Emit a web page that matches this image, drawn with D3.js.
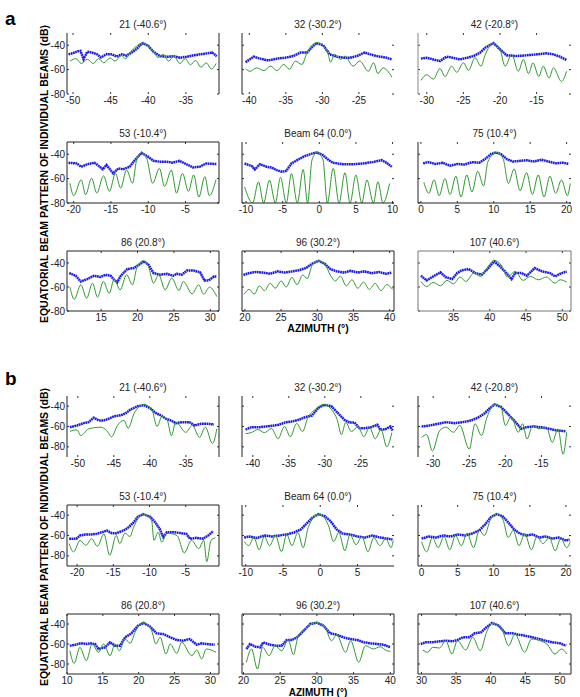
<!DOCTYPE html>
<html>
<head>
<meta charset="utf-8">
<script src="https://cdn.jsdelivr.net/npm/d3@7"></script>
<style>
  body { margin: 0; background: #fff; }
  text { font-family: Arial, "Liberation Sans", sans-serif; }
</style>
</head>
<body>
<div id="chart"></div>
<script>
// beam titles, same for both parts
const titles = ["21 (-40.6°)", "32 (-30.2°)", "42 (-20.8°)",
                "53 (-10.4°)", "Beam 64 (0.0°)", "75 (10.4°)",
                "86 (20.8°)", "96 (30.2°)", "107 (40.6°)"]

const yTicks = [-40, -60, -80]

// azimuth range of every panel
const xDomainsA = [[-50.8,-30.6],[-41,-20.2],[-31.2,-10.3],
                   [-20.9,-0.5],[-10.55,10.2],[-0.4,20.6],
                   [10.3,31.2],[19.6,40.6],[30.1,51.2]]
const xDomainsB = [[-51.5,-30.4],[-41.5,-20.4],[-32.1,-10.9],
                   [-21.4,-0.4],[-10.5,9.9],[-0.5,20.7],
                   [10,31.2],[19.8,40.5],[29.5,51.6]]

// ---- part a : measured (blue) and modelled (green) beam patterns, [azimuth, dB]
const blueA = [
  [[-50.6,-47.5],[-50,-46.5],[-49.4,-45],[-49,-44.7],[-48.6,-51.5],[-48.1,-45.3],[-47.5,-46],[-46.8,-47.5],[-46.3,-50],[-45.5,-47.3],[-44.8,-47.5],[-44.2,-49.4],[-43.5,-47.5],[-42.9,-48.5],[-42.2,-46],[-41.5,-42.8],[-41,-39.5],[-40.7,-38.3],[-40,-40.5],[-39.3,-45.5],[-38.4,-49],[-37.5,-49.5],[-36.6,-49],[-35.8,-50.3],[-34.9,-49.5],[-34,-48.3],[-33.1,-47.5],[-32.2,-46.7],[-31.5,-46],[-30.9,-49]],
  [[-40.5,-53.9],[-39.4,-49.4],[-38.5,-51],[-37.4,-52.5],[-36.2,-51],[-35.1,-50.3],[-34,-48.9],[-33,-46],[-32.1,-46],[-31.5,-42],[-30.8,-38.3],[-29.9,-40],[-29,-47.5],[-28,-49.4],[-27.1,-50.3],[-26.2,-50.3],[-25.3,-48.9],[-24.2,-46],[-23,-48.3],[-22.1,-49.4],[-21.2,-50.3],[-20.5,-51.7]],
  [[-30.8,-51],[-30,-50.3],[-29.1,-51.7],[-28.2,-53],[-27.3,-49.4],[-26.4,-50.3],[-25.5,-51.7],[-24.5,-50.3],[-23.6,-48.9],[-22.7,-46],[-22,-42],[-20.9,-38.3],[-20,-43.3],[-19.1,-48.3],[-17.7,-48.9],[-16.4,-48.3],[-15,-47.5],[-13.6,-46.7],[-12.7,-47.5],[-11.8,-49.4],[-10.9,-52.2]],
  [[-20.7,-47],[-19.6,-47.6],[-19,-50.3],[-18.1,-48.1],[-17.2,-47],[-16.5,-50.3],[-16.1,-52.4],[-15.6,-48.9],[-14.7,-55.7],[-14,-51.6],[-13.4,-52.4],[-12.5,-50.3],[-11.8,-44.9],[-10.9,-38.9],[-10,-42.2],[-9.3,-45.4],[-8.4,-46.2],[-7.5,-46.2],[-6.7,-47],[-5.8,-45.4],[-4.9,-48.1],[-4,-50.8],[-3.1,-50.3],[-2.2,-47.6],[-0.8,-48.1]],
  [[-10.2,-47.6],[-9.2,-49.8],[-8.8,-52.5],[-8.1,-48.2],[-7.2,-50.3],[-6.5,-50.9],[-5.8,-53.1],[-5.1,-54.4],[-4.5,-53.6],[-3.8,-47.6],[-2.9,-44.4],[-2,-41.6],[-1,-39.5],[-0.3,-38.6],[0.5,-40.8],[1.2,-44.4],[1.9,-47.1],[3.3,-48.2],[4.6,-48.2],[6,-47.6],[7.4,-46.3],[8.5,-44.9],[9.2,-47.1],[9.9,-50.3]],
  [[0.3,-47.5],[1,-46.5],[2,-48],[3,-47],[4,-49.5],[5,-48],[6,-48.5],[7,-46.5],[8,-47],[8.8,-44],[9.6,-40],[10.3,-38.5],[11,-40],[11.8,-44],[12.6,-46],[13.5,-45.5],[14.5,-45],[15.5,-46],[16.5,-44.5],[17.5,-46],[18.5,-47.5],[19.5,-47],[20.3,-48]],
  [[10.6,-48.4],[11.5,-50.6],[12.2,-55.4],[13.1,-53.4],[14,-50.6],[14.9,-51.7],[15.6,-49.8],[16.3,-50.6],[16.7,-53.4],[17.2,-56.2],[17.7,-50.6],[18.6,-45],[19.5,-44.2],[20.2,-41.4],[20.9,-38.6],[21.5,-41.4],[22.2,-48.4],[23.1,-49.8],[24,-49],[24.9,-50.6],[25.4,-49],[26.1,-49.8],[26.8,-46.2],[27.7,-46.2],[28.6,-47.8],[29.2,-54.5],[29.8,-54.5],[30.5,-51.2],[30.9,-51.2]],
  [[19.8,-50],[20.5,-48.5],[21.5,-47.5],[22.5,-48],[23.5,-49],[24.5,-47],[25.5,-48],[26.5,-47],[27.5,-46],[28.5,-44],[29.3,-40.5],[30.2,-38.2],[31,-40.5],[31.8,-45],[32.7,-47],[33.7,-48],[34.6,-46.5],[35.6,-48],[36.5,-47],[37.5,-48.5],[38.5,-47.5],[39.5,-49],[40.3,-48]],
  [[30.5,-50.6],[31.3,-54.5],[32.2,-51.2],[33.2,-47.8],[33.9,-51.7],[34.8,-53.4],[35.5,-48.4],[36.1,-46.2],[37.1,-45],[38,-48.4],[38.9,-49.8],[39.8,-44.2],[40.6,-38.6],[41.4,-42.8],[42.3,-48.4],[43,-53.4],[43.5,-48.4],[44.4,-48.4],[45.1,-50.6],[46.2,-44.2],[47.2,-47],[48.3,-48.4],[49,-51.2],[49.7,-49],[50.6,-47]]
]
const greenA = [
  [[-50.4,-53],[-49.6,-51],[-48.9,-55],[-48.1,-51.5],[-47.3,-55],[-46.6,-51],[-45.9,-54.5],[-45.1,-50.5],[-44.4,-53],[-43.6,-48.5],[-43,-51],[-42.3,-45],[-41.6,-41],[-40.8,-38.2],[-40,-40.5],[-39.3,-45.5],[-38.7,-50],[-38,-47.5],[-37.3,-53],[-36.6,-49],[-35.8,-55],[-35.1,-51],[-34.4,-56],[-33.7,-52.5],[-33,-58],[-32.3,-54.5],[-31.6,-59.5],[-31,-55]],
  [[-40.5,-59.4],[-39.9,-61.4],[-39,-58.6],[-38,-60.8],[-37.1,-57.2],[-36.2,-60.8],[-35.3,-55.8],[-34.5,-59.7],[-33.7,-53],[-32.8,-55.8],[-32.1,-46],[-31.5,-40.6],[-30.7,-37.8],[-29.9,-40.6],[-29.2,-47.5],[-28.9,-53.9],[-28.3,-47.5],[-27.5,-51.7],[-26.9,-48.9],[-25.8,-57.2],[-24.9,-53],[-23.7,-61.4],[-23,-54.4],[-22.4,-63.3],[-21.7,-58.6],[-20.5,-66.1]],
  [[-30.8,-68.9],[-30,-64.2],[-29.1,-67.8],[-28.2,-59.2],[-27.5,-65.6],[-26.6,-57.2],[-25.9,-62.2],[-25,-54.4],[-24.3,-60.6],[-23.4,-50.3],[-22.6,-57.2],[-22,-47.5],[-20.9,-38.3],[-20,-43.3],[-19.3,-57.2],[-18.4,-47.5],[-17.5,-61.4],[-16.8,-51.7],[-16.1,-63.3],[-15.5,-54.4],[-14.7,-65.6],[-14.1,-57.2],[-13.3,-66.9],[-12.7,-58.6],[-11.6,-69.7],[-10.9,-61.4]],
  [[-20.5,-63.8],[-20,-74],[-19,-61],[-18.4,-73.2],[-17.6,-59.7],[-16.9,-71.9],[-16,-57.8],[-15.2,-70.5],[-14.4,-55.7],[-13.7,-67.8],[-12.9,-53],[-12.1,-63.8],[-11.6,-46],[-10.9,-38.9],[-10.2,-43.5],[-9.4,-63.8],[-8.5,-51.6],[-7.8,-66.5],[-6.9,-53],[-6.2,-71.9],[-5.4,-55.7],[-4.6,-70.5],[-3.9,-57],[-3.2,-75.1],[-2.4,-58.4],[-1.8,-74],[-0.9,-61]],
  [[-10.2,-66.7],[-9.1,-80],[-8.3,-62.6],[-7.6,-80],[-6.8,-61.2],[-6,-80],[-5.3,-59],[-4.5,-80],[-3.8,-55.8],[-3,-80],[-2.2,-52.5],[-1.6,-80],[-1,-44.9],[-0.3,-38.6],[0.5,-44.4],[1.1,-80],[1.9,-51.7],[2.7,-80],[3.5,-55.2],[4.2,-80],[5,-57.1],[5.8,-80],[6.5,-61.2],[7.4,-80],[8,-62.6],[8.7,-80],[9.6,-64]],
  [[0.4,-63],[1.1,-72],[1.8,-61],[2.5,-74],[3.3,-60],[4,-73],[4.8,-58],[5.5,-75],[6.3,-57],[7,-71],[7.8,-54],[8.6,-66],[9.2,-46],[10.4,-38.6],[11.3,-44],[12,-64],[12.8,-52],[13.6,-70],[14.5,-55],[15.3,-73],[16.1,-57],[16.9,-75],[17.7,-58],[18.5,-72],[19.3,-61],[20.1,-74],[20.5,-64]],
  [[10.7,-60.1],[11.3,-70.2],[12.2,-58.2],[13,-69.4],[13.8,-56.8],[14.5,-68.5],[15.3,-55.4],[16.1,-65.2],[16.8,-53.4],[17.6,-62.4],[18.5,-49.8],[19.3,-58.2],[19.9,-44.2],[20.8,-38],[21.5,-42.8],[22.2,-56.8],[22.9,-49.8],[23.8,-62.4],[24.7,-52.6],[25.7,-62.9],[26.3,-55.4],[27.5,-65.7],[28.4,-58.2],[29.1,-66],[29.9,-60.1],[30.9,-68]],
  [[19.9,-66],[20.6,-62],[21.3,-66],[22,-59],[22.7,-63],[23.5,-57],[24.2,-61],[25,-55],[25.7,-60],[26.5,-52],[27.2,-58],[28,-50],[28.6,-53],[29.3,-42],[30.2,-38],[31.1,-41.5],[31.8,-50],[32.5,-55],[33.2,-51],[34,-59],[34.8,-54],[35.6,-61],[36.4,-56],[37.2,-62],[38,-57],[38.8,-63],[39.6,-58],[40.4,-62]],
  [[30.5,-55.4],[31.3,-59.6],[32.2,-56.2],[33.2,-59],[34.1,-54.5],[35,-57.3],[35.9,-51.7],[36.7,-55.4],[37.8,-48.4],[38.7,-51.2],[39.6,-44.2],[40.6,-37.8],[41.7,-42.8],[42.4,-51.7],[43.5,-47],[44.6,-54.5],[45.6,-51.2],[46.7,-54],[47.8,-51.7],[49,-56.8],[49.7,-54],[50.6,-55.9]]
]

// ---- part b
const blueB = [
  [[-51.1,-60.7],[-50.1,-59],[-49.2,-56.7],[-48.5,-55.7],[-47.8,-51.3],[-47.1,-54],[-46.4,-54],[-45.7,-52.3],[-45,-50],[-44.1,-49],[-43.4,-47.3],[-42.7,-43.3],[-41.7,-40],[-40.8,-39],[-39.9,-42.3],[-39.2,-46.7],[-38.5,-49],[-37.8,-52.3],[-37.1,-54],[-36.4,-56.7],[-35.5,-55.7],[-34.5,-55.7],[-33.8,-59],[-32.9,-57.3],[-32,-57.3],[-31.1,-58]],
  [[-41,-63],[-40.2,-60.7],[-39.1,-60.7],[-38.2,-60],[-37.3,-59.3],[-36.4,-58.3],[-35.5,-56],[-34.5,-55],[-33.6,-53.3],[-32.7,-50.7],[-31.8,-49.3],[-30.9,-41.7],[-30.1,-38.7],[-29.1,-40],[-28.2,-46.7],[-27.3,-53.3],[-26.6,-56],[-25.9,-56],[-25.2,-61.7],[-24.5,-61.7],[-23.6,-60.7],[-22.7,-58.3],[-22.3,-63.3],[-21.6,-62.7],[-20.9,-60],[-20.6,-64]],
  [[-31.6,-60],[-30.5,-59],[-29.3,-57.3],[-28.2,-55.7],[-27,-56.7],[-25.9,-55.7],[-24.7,-54],[-23.8,-51.3],[-22.9,-47.3],[-22.2,-42.3],[-21.5,-38.3],[-20.6,-40.7],[-19.7,-47.3],[-18.7,-54.7],[-17.8,-62.3],[-17.1,-60.7],[-16.2,-60],[-15,-60.7],[-13.9,-62.3],[-12.7,-64],[-11.6,-64.7]],
  [[-21.1,-63.2],[-20.1,-63.2],[-19.6,-60],[-18.9,-59],[-18.2,-59],[-17.3,-58.4],[-16.6,-56.8],[-15.9,-55.2],[-15.2,-57.7],[-14.6,-57.7],[-13.6,-55.2],[-12.9,-51.9],[-12.2,-47.1],[-11.6,-41.6],[-10.9,-39],[-9.9,-41.6],[-9.2,-47.1],[-8.6,-53.5],[-8.1,-61.6],[-7.6,-56.8],[-6.7,-56.8],[-5.6,-57.7],[-4.9,-58.4],[-4.4,-63.2],[-3.5,-62.3],[-2.6,-63.2],[-1.9,-60],[-1.2,-55.8]],
  [[-10.2,-62],[-9.5,-61],[-8.5,-62.5],[-7.5,-60],[-6.5,-61],[-5.5,-60],[-4.5,-59],[-3.5,-57],[-2.6,-54],[-1.8,-48],[-1,-42],[-0.2,-39],[0.6,-41],[1.4,-46],[2.2,-54],[3,-58],[4,-59],[5,-61],[6,-62],[7,-60],[8,-62],[9,-63],[9.7,-64]],
  [[0,-63],[1,-61],[2,-62],[3,-60],[4,-61],[5,-59],[6,-60],[7,-58],[8,-55],[8.8,-49],[9.6,-42],[10.4,-39],[11.2,-41],[12,-47],[12.8,-54],[13.6,-58],[14.5,-60],[15.4,-59],[16.3,-62],[17.2,-61],[18.1,-63],[19,-62],[20,-65],[20.5,-64]],
  [[10.4,-61.7],[11.2,-60.7],[11.9,-59.3],[12.8,-60],[13.2,-59.3],[13.9,-60],[14.4,-65],[15.3,-63.3],[16,-58.3],[16.7,-61.7],[17.4,-61.7],[18.1,-53.3],[19,-49.3],[19.9,-41.7],[20.7,-39],[21.6,-42.7],[22.5,-49.3],[23.4,-50],[24.4,-53.3],[25.3,-56],[26.2,-56.7],[27.1,-55],[28.1,-60.7],[28.8,-59.3],[29.4,-60],[30.6,-60.7]],
  [[20.4,-65],[20.9,-60],[21.6,-62.7],[22.3,-63.3],[22.7,-58.3],[23.6,-60.7],[24.5,-61.7],[25.2,-61.7],[25.9,-56],[26.6,-56],[27.3,-53.3],[28.2,-46.7],[29.1,-40],[30,-38.7],[30.9,-41.7],[31.8,-49.3],[32.7,-50.7],[33.6,-53.3],[34.5,-55],[35.5,-56],[36.4,-58.3],[37.3,-59.3],[38.2,-60],[39.1,-60.7],[40,-63.3]],
  [[29.9,-60],[30.6,-58.3],[31.6,-58.3],[32.6,-57.3],[33.5,-56.7],[34.5,-57.3],[35.2,-56],[36,-53.3],[36.9,-53.3],[37.7,-49.3],[38.6,-48.3],[39.4,-43.3],[40.2,-39],[41.2,-41.7],[42.1,-49.3],[43.1,-49.3],[44.1,-50.7],[45,-51.7],[46,-53.3],[47,-55],[47.9,-56.7],[48.9,-58.3],[50,-59.3],[50.9,-61.7]]
]
const greenB = [
  [[-51.1,-64.7],[-50.1,-63.3],[-49.6,-69],[-48.5,-62.3],[-46.8,-60.7],[-46,-64],[-45.3,-70],[-44.5,-59],[-43.6,-54],[-43,-61.7],[-42.2,-47.3],[-40.8,-38.3],[-39.7,-44],[-39,-60],[-38.3,-50],[-37.6,-53.3],[-37,-69],[-36.4,-55.7],[-35,-65.7],[-34.1,-59],[-33.1,-70.7],[-32.3,-60.7],[-31.3,-76.7],[-30.7,-62.3]],
  [[-41,-67],[-40.2,-66],[-39.3,-63],[-38.4,-66],[-37.4,-62],[-36.5,-72],[-35.6,-60],[-34.8,-70],[-33.9,-57],[-33.1,-65],[-32.4,-52],[-31.3,-43],[-30.2,-38.3],[-29,-44],[-28.3,-53],[-27.7,-68],[-27.1,-56],[-26.3,-65],[-25.4,-60],[-24.6,-70],[-23.8,-61],[-23,-72],[-22.2,-63],[-21.4,-80],[-20.7,-66]],
  [[-31.6,-70.7],[-30.9,-68],[-30.1,-84],[-29.1,-64],[-28.2,-60.7],[-27.2,-65.7],[-26.3,-59],[-25,-82.3],[-24.2,-57.3],[-23.3,-69],[-22.6,-52.3],[-21.5,-38],[-20.6,-40.7],[-20,-59],[-19.2,-50.7],[-18.2,-65.7],[-17.6,-57.3],[-17,-72.3],[-16.2,-59],[-15.3,-62.3],[-14.3,-60.7],[-13.5,-75.7],[-12.7,-62.3],[-12,-87.3],[-11.5,-65.7]],
  [[-21.1,-68],[-20.5,-76.1],[-19.6,-64.8],[-18.8,-69.7],[-18,-63.2],[-17.2,-70.6],[-16.3,-58.4],[-15.5,-79.4],[-14.6,-60],[-14.1,-68],[-13.4,-57.7],[-12.7,-61],[-12.2,-51.9],[-10.9,-39],[-9.7,-45.5],[-9.4,-64.8],[-8.8,-56.8],[-8.3,-66.5],[-7.6,-57.7],[-6.2,-60],[-5.2,-77.1],[-4.2,-64.8],[-3.2,-72.9],[-2.5,-64.8],[-2.1,-85.8],[-1.5,-64.8],[-0.9,-62.3]],
  [[-10.2,-66],[-9.6,-70],[-8.9,-62],[-8.2,-74],[-7.5,-61],[-6.8,-70],[-6,-60],[-5.2,-76],[-4.5,-59],[-3.8,-70],[-3,-57],[-2.3,-72],[-1.6,-52],[-0.2,-39],[1.1,-50],[1.8,-66],[2.5,-57],[3.3,-75],[4,-59],[4.8,-69],[5.6,-61],[6.4,-76],[7.2,-62],[8,-70],[8.8,-63],[9.5,-72],[9.8,-65]],
  [[0,-66],[0.7,-76],[1.5,-62],[2.3,-72],[3.1,-61],[3.9,-74],[4.7,-60],[5.5,-70],[6.3,-58],[7.2,-72],[8,-55],[8.7,-60],[9.5,-45],[10.4,-38.5],[11.3,-45],[12,-62],[12.7,-55],[13.5,-70],[14.3,-58],[15.2,-74],[16,-61],[16.8,-68],[17.7,-62],[18.5,-75],[19.3,-63],[20.1,-72],[20.6,-66]],
  [[10.4,-66.7],[11,-79.3],[11.8,-63.3],[12.7,-76.7],[13.5,-60],[14.4,-68.3],[15.1,-60],[16,-71.7],[16.7,-60],[17.3,-66.7],[18.1,-55],[18.8,-59.3],[19.5,-48.3],[20.6,-38.3],[21.8,-46.7],[22.4,-60],[23,-53.3],[23.8,-70],[24.4,-60],[25.3,-69.3],[26,-58.3],[27.4,-71.7],[28.1,-66],[28.8,-75],[29.4,-65],[30.8,-68.3]],
  [[20.4,-78.3],[21.1,-65],[21.9,-85],[22.6,-63.3],[23.5,-71.7],[24.3,-61.7],[25.2,-66.7],[26.1,-56],[26.8,-70.7],[27.4,-53.3],[28.4,-45],[29.9,-38.3],[31.1,-43.3],[32,-56.7],[32.7,-50.7],[33.9,-68.3],[34.6,-56.7],[35.7,-78.3],[36.6,-61.7],[37.7,-65],[38.6,-62.7],[39.5,-66.7],[40,-67.3]],
  [[30.2,-66],[30.9,-68.3],[31.6,-63.3],[32.6,-64],[33.5,-56.7],[34.4,-70],[35.2,-56.7],[36.4,-66],[37.4,-53.3],[38.5,-66.7],[39.4,-48.3],[40.2,-39.3],[41.5,-43.3],[42.6,-61.7],[43.5,-50],[44.9,-68.3],[45.9,-55],[47.1,-56.7],[48.1,-60],[49.3,-70],[50.2,-65],[51,-70]]
]

// which sides of each panel box are drawn in the original
const framesA = ["lr","l","l","lrtb","lb","lb","lrtb","lrtb","lrtb"]
const framesB = ["lr","l","l","lrtb","lb","lb","lrtb","lrtb","lrtb"]
const frameColA = ["#222","#222","#888","#222","#222","#222","#222","#222","#777"]

const W = 580, H = 697
const cols = [[67,219],[242,394],[418,571]]
const rowsA = [[33,94],[142,203],[251,311]]
const rowsB = [[396,457],[505,566],[614,674]]

const svg = d3.select("#chart").append("svg")
  .attr("width", W).attr("height", H)

function drawPart(key, rows, yDomain, xDomains, blue, green, frames, frameCols) {
  xDomains.forEach((dom, i) => {
    const c = cols[i % 3], r = rows[Math.floor(i / 3)]
    const x = d3.scaleLinear().domain(dom).range(c)
    const y = d3.scaleLinear().domain(yDomain).range([r[1], r[0]])
    const g = svg.append("g")
    const clipId = `clip-${key}-${i}`

    g.append("clipPath").attr("id", clipId)
      .append("rect")
      .attr("x", c[0]).attr("y", r[0])
      .attr("width", c[1] - c[0]).attr("height", r[1] - r[0])

    const line = d3.line().x(d => x(d[0])).y(d => y(d[1]))

    // measured pattern: dense blue dots
    g.append("path")
      .datum(blue[i])
      .attr("clip-path", `url(#${clipId})`)
      .attr("fill", "none")
      .attr("stroke", "#1a1ae6")
      .attr("stroke-width", 2.5)
      .attr("stroke-dasharray", "1.8,0.5")
      .attr("d", line)

    // model pattern: thin green line
    g.append("path")
      .datum(green[i])
      .attr("clip-path", `url(#${clipId})`)
      .attr("fill", "none")
      .attr("stroke", "#2f9a2f")
      .attr("stroke-width", 1)
      .attr("d", line.curve(d3.curveMonotoneX))

    // tick marks, drawn inward on all four sides
    const xt = d3.range(Math.ceil(dom[0] / 5) * 5, dom[1] + 0.001, 5)
    xt.forEach(t => {
      g.append("line").attr("x1", x(t)).attr("x2", x(t))
        .attr("y1", r[0]).attr("y2", r[0] + 2).attr("stroke", "#333")
      g.append("line").attr("x1", x(t)).attr("x2", x(t))
        .attr("y1", r[1]).attr("y2", r[1] - 2).attr("stroke", "#333")
      g.append("text").attr("x", x(t)).attr("y", r[1] + 10)
        .attr("text-anchor", "middle").attr("font-size", 10).attr("fill", "#222")
        .text(t)
    })
    yTicks.forEach(t => {
      g.append("line").attr("x1", c[0]).attr("x2", c[0] + 2)
        .attr("y1", y(t)).attr("y2", y(t)).attr("stroke", "#333")
      g.append("line").attr("x1", c[1]).attr("x2", c[1] - 2)
        .attr("y1", y(t)).attr("y2", y(t)).attr("stroke", "#333")
      if (i % 3 === 0) {
        g.append("text").attr("x", c[0] - 2).attr("y", y(t)).attr("dy", "0.35em")
          .attr("text-anchor", "end").attr("font-size", 10).attr("fill", "#222")
          .text(t)
      }
    })

    // partial box lines
    const f = frames[i], col = frameCols ? frameCols[i] : "#222"
    if (f.includes("l")) g.append("line").attr("x1", c[0]).attr("x2", c[0]).attr("y1", r[0]).attr("y2", r[1]).attr("stroke", col)
    if (f.includes("r")) g.append("line").attr("x1", c[1]).attr("x2", c[1]).attr("y1", r[0]).attr("y2", r[1]).attr("stroke", col)
    if (f.includes("t")) g.append("line").attr("x1", c[0]).attr("x2", c[1]).attr("y1", r[0]).attr("y2", r[0]).attr("stroke", col)
    if (f.includes("b")) g.append("line").attr("x1", c[0]).attr("x2", c[1]).attr("y1", r[1]).attr("y2", r[1]).attr("stroke", col)

    g.append("text").attr("x", (c[0] + c[1]) / 2).attr("y", r[0] - 5)
      .attr("text-anchor", "middle").attr("font-size", 10).attr("fill", "#222")
      .text(titles[i])
  })
}

drawPart("a", rowsA, [-80, -30], xDomainsA, blueA, greenA, framesA, frameColA)
drawPart("b", rowsB, [-90, -30], xDomainsB, blueB, greenB, framesB, null)

// panel letters
svg.append("text").attr("x", 5).attr("y", 25).attr("font-size", 19)
  .attr("font-weight", "bold").text("a")
svg.append("text").attr("x", 5).attr("y", 385).attr("font-size", 19)
  .attr("font-weight", "bold").text("b")

// axis titles
const yLab = "EQUATORIAL BEAM PATTERN OF INDIVIDUAL BEAMS (dB)"
;[174, 537].forEach(cy => {
  svg.append("text")
    .attr("transform", `translate(48,${cy})rotate(-90)`)
    .attr("text-anchor", "middle").attr("font-size", 10.5).attr("font-weight", "bold")
    .text(yLab)
})
;[[332, 10.5], [695.5, 10]].forEach(([yy, fs]) => {
  svg.append("text").attr("x", 318).attr("y", yy)
    .attr("text-anchor", "middle").attr("font-size", fs).attr("font-weight", "bold")
    .text("AZIMUTH (°)")
})
</script>
</body>
</html>
